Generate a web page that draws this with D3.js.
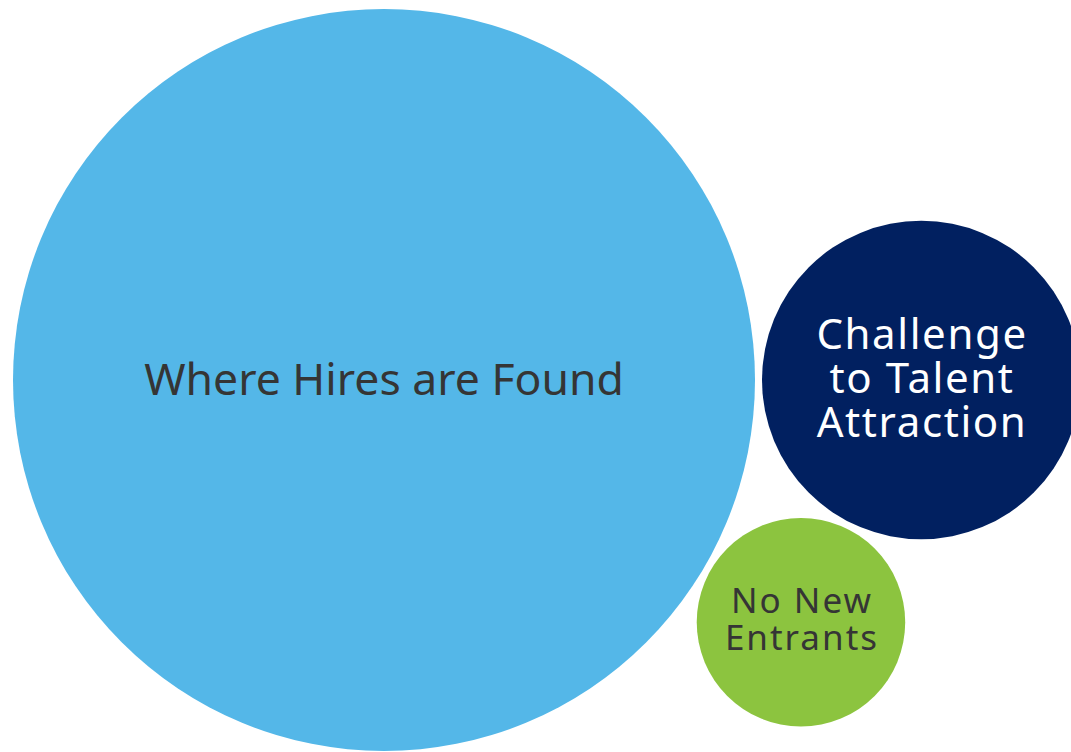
<!DOCTYPE html>
<html>
<head>
<meta charset="utf-8">
<script src="https://cdn.jsdelivr.net/npm/d3@7"></script>
<style>
  html, body { margin: 0; padding: 0; background: #fff; }
  svg { display: block; }
  text { font-family: "Noto Sans", "Open Sans", sans-serif; }
</style>
</head>
<body>
<svg width="1071" height="752"></svg>
<script>
// bubble data
var labels = [["Where Hires are Found"], ["Challenge", "to Talent", "Attraction"], ["No New", "Entrants"]];
var values = [76, 14, 6];
var colors = ["#54b7e8", "#012060", "#8cc43f"];
var textColors = ["#353535", "#ffffff", "#353535"];

var svg = d3.select("svg"),
    pad = 3.5;

var r = d3.scaleSqrt().domain([0, 76]).range([0, 371]);

var nodes = values.map(function(v, i) {
  return { label: labels[i], value: v, color: colors[i], tc: textColors[i], rr: r(v), r: r(v) + pad };
});

d3.packSiblings(nodes);
var flip = nodes[2].y < 0 ? -1 : 1;
var ox = 384 - nodes[0].x, oy = 380;
nodes.forEach(function(d) {
  d.cx = d.x + ox;
  d.cy = flip * (d.y - nodes[0].y) + oy;
});

var fontSize = [44.5, 42, 35],
    spacing = [0, 1.6, 2],
    lineH = [0, 44, 37],
    shift = [0.34, 0.31, 0.27];

var g = svg.selectAll(".bubble")
    .data(nodes)
  .enter().append("g")
    .attr("class", "bubble")
    .attr("transform", function(d) { return "translate(" + d.cx + "," + d.cy + ")"; });

g.append("circle")
  .attr("r", function(d) { return d.rr; })
  .attr("fill", function(d) { return d.color; });

g.each(function(d, i) {
  var n = d.label.length,
      t = d3.select(this).append("text")
        .attr("text-anchor", "middle")
        .attr("fill", d.tc)
        .style("font-size", fontSize[i] + "px")
        .style("letter-spacing", spacing[i] + "px");
  d.label.forEach(function(line, j) {
    t.append("tspan")
      .attr("x", spacing[i] / 2)
      .attr("y", (j - (n - 1) / 2) * lineH[i] + fontSize[i] * shift[i])
      .text(line);
  });
});
</script>
</body>
</html>
